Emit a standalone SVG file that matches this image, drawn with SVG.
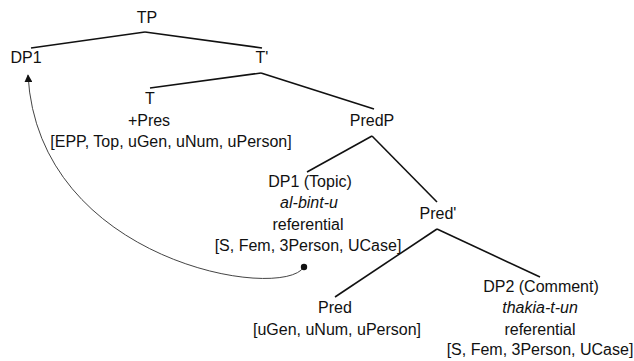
<svg xmlns="http://www.w3.org/2000/svg" width="634" height="361" viewBox="0 0 634 361">
<style>
text{font-family:"Liberation Sans",Arial,sans-serif;font-size:16px;fill:#111;text-anchor:middle}
.i{font-style:italic}
.edge{stroke:#111;stroke-width:1.6;fill:none}
.move{stroke:#444;stroke-width:1;fill:none}
</style>
<defs>
<marker id="ah" viewBox="0 0 10 10" refX="9" refY="5" markerWidth="8" markerHeight="8" markerUnits="userSpaceOnUse" orient="auto">
<path d="M0,0 L10,5 L0,10 z" fill="#111"/>
</marker>
</defs>
<rect width="634" height="361" fill="#fff"/>
<g id="connectors">
<line class="edge" x1="145" y1="32" x2="31" y2="48"/>
<line class="edge" x1="145" y1="32" x2="262" y2="48"/>
<line class="edge" x1="261" y1="73" x2="150" y2="88"/>
<line class="edge" x1="261" y1="73" x2="374" y2="109"/>
<line class="edge" x1="372" y1="136" x2="307" y2="172"/>
<line class="edge" x1="372" y1="136" x2="437" y2="202"/>
<line class="edge" x1="437" y1="229" x2="335" y2="297"/>
<line class="edge" x1="437" y1="229" x2="540" y2="277"/>
<path class="move" d="M304,267 C282,302 38,262 28,75" marker-end="url(#ah)"/>
<circle cx="304" cy="267" r="3.2" fill="#111"/>
</g>
<g id="TP"><text x="147" y="23">TP</text></g>
<g id="DP1"><text x="26" y="63">DP1</text></g>
<g id="Tbar"><text x="262" y="63">T'</text></g>
<g id="T">
<text x="150" y="104">T</text>
<text x="149" y="126">+Pres</text>
<text x="171" y="147">[EPP, Top, uGen, uNum, uPerson]</text>
</g>
<g id="PredP"><text x="372" y="126">PredP</text></g>
<g id="DP1Topic">
<text x="310" y="187">DP1 (Topic)</text>
<text class="i" x="309" y="208">al-bint-u</text>
<text x="308" y="230">referential</text>
<text x="308" y="251">[S, Fem, 3Person, UCase]</text>
</g>
<g id="Predbar"><text x="438" y="219">Pred'</text></g>
<g id="Pred">
<text x="335" y="313">Pred</text>
<text x="337" y="335">[uGen, uNum, uPerson]</text>
</g>
<g id="DP2Comment">
<text x="541" y="292">DP2 (Comment)</text>
<text class="i" x="540" y="313">thakia-t-un</text>
<text x="540" y="335">referential</text>
<text x="540" y="355">[S, Fem, 3Person, UCase]</text>
</g>
</svg>
